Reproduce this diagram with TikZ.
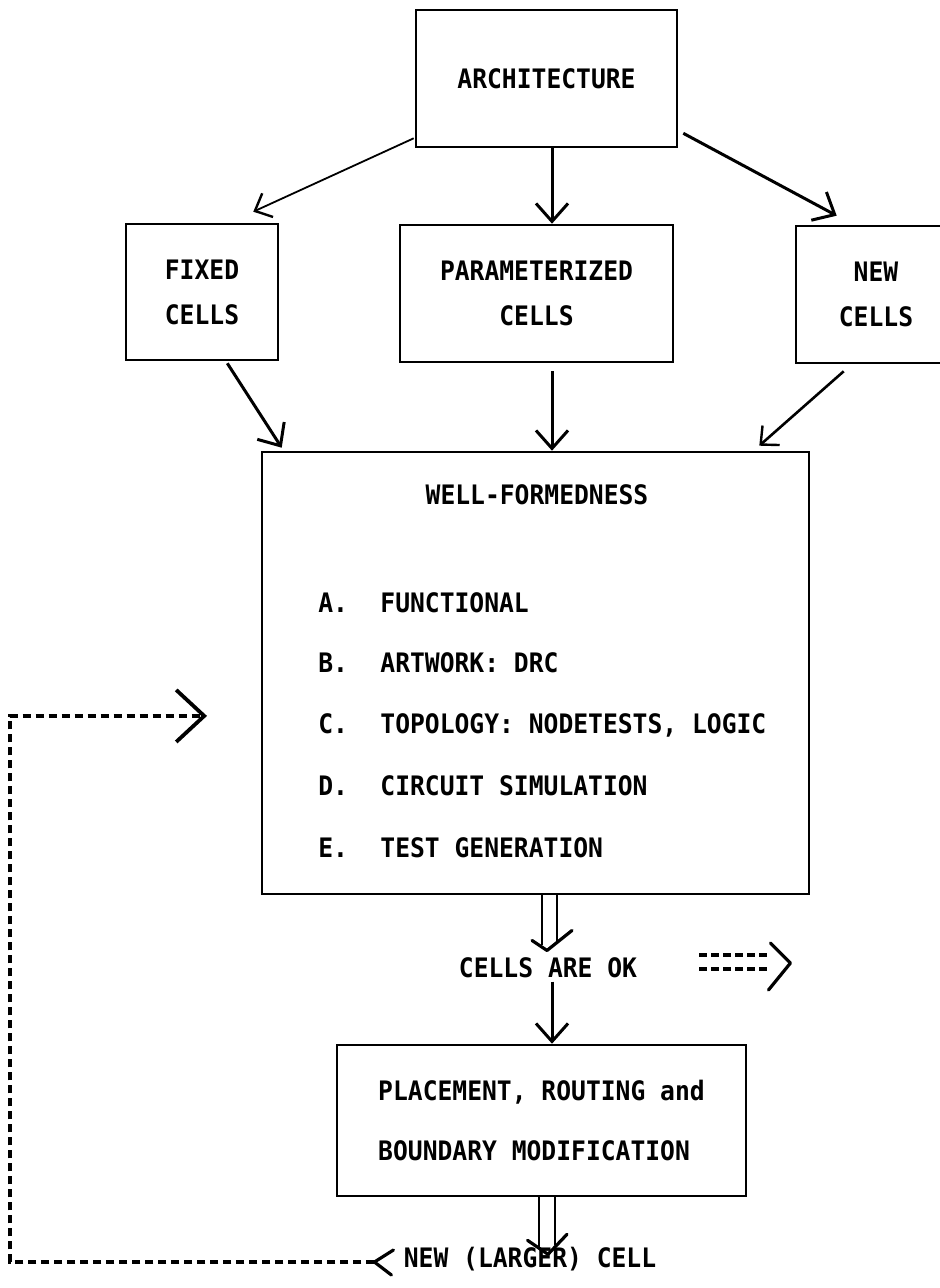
\documentclass[tikz,border=0pt]{standalone}
\usepackage{fontspec}
\setmonofont{DejaVu Sans Mono}[FakeStretch=0.92]
\usetikzlibrary{arrows.meta,calc}
\begin{document}
\begin{tikzpicture}[x=0.5pt,y=-0.5pt,
  box/.style={draw, line width=1.3pt, inner sep=0pt},
  txt/.style={font=\fontsize{13.4}{22.5}\selectfont\ttfamily\bfseries, inner sep=0pt, align=center},
  conn/.style={line width=1.5pt, -{Straight Barb[length=9pt,width=16pt,line width=1.5pt]}},
  faint/.style={line width=0.9pt, -{Straight Barb[length=7pt,width=13pt,line width=1.2pt]}},
  rail/.style={line width=1.3pt},
  vee/.style={line width=1.6pt, line cap=round, line join=round},
  fb/.style={line width=1.8pt, dash pattern=on 4pt off 2.5pt},
  fbtip/.style={-{Straight Barb[length=14pt,width=26pt,line width=1.9pt]}},
  eq/.style={line width=1.6pt, dash pattern=on 4pt off 2pt}
]
\useasboundingbox (0,0) rectangle (940,1288);
\clip (0,0) rectangle (940,1288);

% boxes
\node[box, txt, minimum width=130.5pt, minimum height=68.5pt] (arch) at (546.5,78.5) {ARCHITECTURE};
\node[box, txt, minimum width=76pt, minimum height=68pt] (fixed) at (202,292) {FIXED\\CELLS};
\node[box, txt, minimum width=136.5pt, minimum height=68.5pt] (param) at (536.5,293.5) {PARAMETERIZED\\CELLS};
\node[box, txt, minimum width=80pt, minimum height=68.5pt] (new) at (876,294.5) {NEW\\CELLS};
\node[box, minimum width=273.5pt, minimum height=221pt] (wf) at (535.5,673) {};
\node[box, txt, align=left, font=\fontsize{13.4}{30}\selectfont\ttfamily\bfseries, minimum width=204.5pt, minimum height=75.5pt] (place) at (541.5,1120.5) {PLACEMENT, ROUTING and\\BOUNDARY MODIFICATION};

% texts in well-formedness box
\node[txt] (wft) at (537,495) {WELL-FORMEDNESS};
\node[txt, anchor=base west] (la) at (318,612) {A.};
\node[txt, anchor=base west] (ia) at (380,612) {FUNCTIONAL};
\node[txt, anchor=base west] (lb) at (318,672) {B.};
\node[txt, anchor=base west] (ib) at (380,672) {ARTWORK: DRC};
\node[txt, anchor=base west] (lc) at (318,733) {C.};
\node[txt, anchor=base west] (ic) at (380,733) {TOPOLOGY: NODETESTS, LOGIC};
\node[txt, anchor=base west] (ld) at (318,795) {D.};
\node[txt, anchor=base west] (id) at (380,795) {CIRCUIT SIMULATION};
\node[txt, anchor=base west] (le) at (318,857) {E.};
\node[txt, anchor=base west] (ie) at (380,857) {TEST GENERATION};

\node[txt] (ok) at (548,968) {CELLS ARE OK};
\node[txt] (newc) at (530,1259) {NEW (LARGER) CELL};

% connectors
\draw[faint] ($(arch.south west)+(-1,-10)$) -- ($(fixed.north east)+(-26,-11)$);
\draw[conn] ($(arch.south)+(5.5,0)$) -- ($(param.north)+(15.5,0)$);
\draw[conn] ($(arch.south east)+(5,-15)$) -- ($(new.north west)+(42,-9)$);
\draw[conn] ($(fixed.south east)+(-52,2)$) -- ($(wf.north west)+(21,-3)$);
\draw[conn] ($(param.south)+(15.5,8)$) -- ($(wf.north)+(16.5,0)$);
\draw[faint, line width=1.3pt] ($(new.south west)+(49,7)$) -- ($(wf.north east)+(-51,-5)$);

% double arrow wf -> ok
\draw[rail] ($(wf.south)+(6.5,0)$) -- ($(ok.north)+(-6,-12)$);
\draw[rail] ($(wf.south)+(21.5,0)$) -- ($(ok.north)+(9,-16)$);
\draw[vee] ($(ok.north)+(-16,-17)$) -- ($(ok.north)+(-1,-7)$) -- ($(ok.north)+(24,-27)$);

% ok -> place
\draw[conn] ($(ok.south)+(4,3)$) -- ($(place.north)+(10.5,0)$);

% double arrow place -> new cell
\draw[rail] ($(place.south)+(-2.5,0)$) -- ($(place.south)+(-2.5,50)$);
\draw[rail] ($(place.south)+(13.5,0)$) -- ($(place.south)+(13.5,48)$);
\draw[vee] ($(place.south)+(-14,43)$) -- ($(place.south)+(6.5,57)$) -- ($(place.south)+(25.5,37)$);

% dashed "====>" next to CELLS ARE OK
\draw[eq] ($(ok.east)+(62,-13)$) -- ($(ok.east)+(132,-13)$);
\draw[eq] ($(ok.east)+(62,1)$) -- ($(ok.east)+(132,1)$);
\draw[vee] ($(ok.east)+(133,-25)$) -- ($(ok.east)+(153,-5)$) -- ($(ok.east)+(131,22)$);

% feedback loop
\coordinate (loopx) at (10,0);
\coordinate (fbend) at ($(ic.west)+(-173,-9)$);
\draw[vee] ($(newc.west)+(-10,-9)$) -- ($(newc.west)+(-29,3)$) -- ($(newc.west)+(-12,16)$);
\draw[fb, fbtip] ($(newc.west)+(-29,3)$) -| (loopx |- fbend) -- (fbend);

\end{tikzpicture}
\end{document}
